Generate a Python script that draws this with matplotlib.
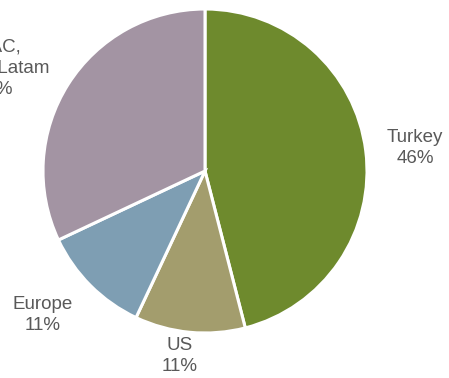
import matplotlib.pyplot as plt

# revenue split by region
regions = ['Turkey', 'US', 'Europe', 'APAC,\nAfrica, Latam']
shares = [46, 11, 11, 32]
colors = ['#6E8A2D', '#A39D6D', '#7E9EB3', '#A394A3']

# label anchor points in pie units (radius = 1)
label_xy = [(1.296, 0.142), (-0.154, -1.142), (-1.0, -0.889), (-1.30, 0.636)]

fig = plt.figure(figsize=(4.49, 3.78), dpi=100)
ax = fig.add_axes([0, 0, 1, 1])

ax.pie(shares, colors=colors, startangle=90, counterclock=False,
       radius=1.0, wedgeprops=dict(edgecolor='white', linewidth=2.2))

for name, val, (x, y) in zip(regions, shares, label_xy):
    ax.text(x, y, f'{name}\n{val}%', ha='center', va='center',
            fontsize=13.5, color='#595959', family='Liberation Sans',
            linespacing=1.32)

ax.set_aspect('auto')
ax.set_xlim(-205 / 162, (449 - 205) / 162)
ax.set_ylim(-(378 - 171) / 162, 171 / 162)
ax.axis('off')

fig.savefig('out.png', dpi=100)
